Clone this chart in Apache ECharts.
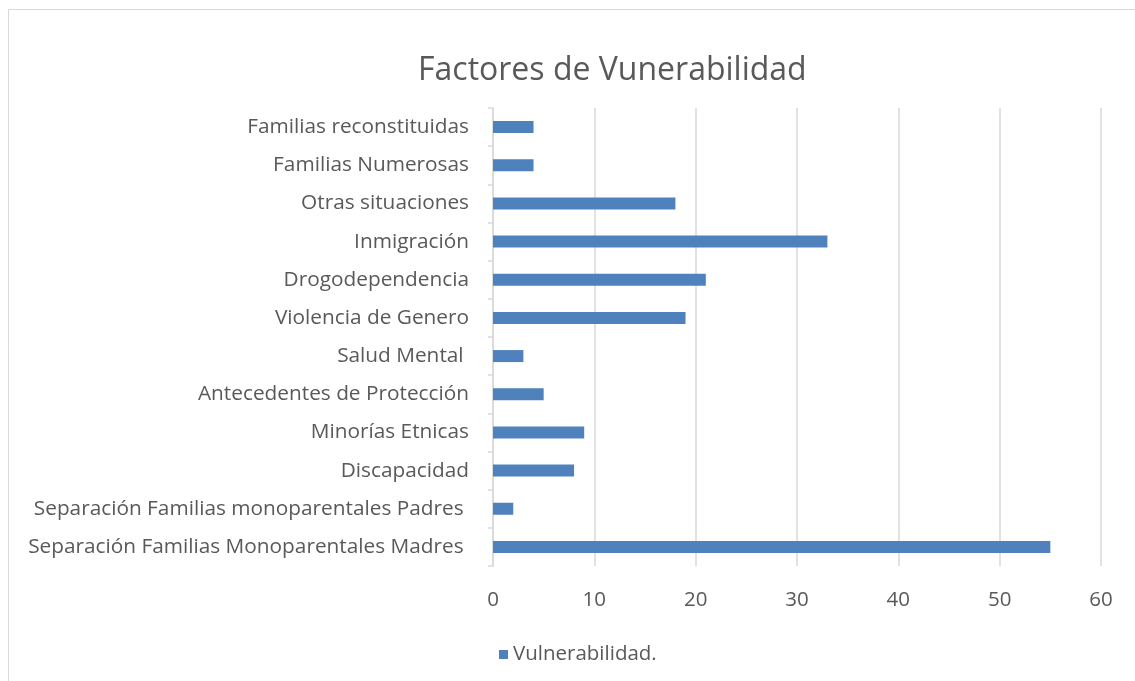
<!DOCTYPE html>
<html>
<head>
<meta charset="utf-8">
<script src="https://cdn.jsdelivr.net/npm/echarts@6/dist/echarts.min.js"></script>
<style>
  html, body { margin: 0; padding: 0; background: #fff; }
  #chart { width: 1135px; height: 681px; }
</style>
</head>
<body>
<div id="chart"></div>
<script>
// categories top to bottom, as in the picture
const categories = [
  'Familias reconstituidas',
  'Familias Numerosas',
  'Otras situaciones',
  'Inmigración',
  'Drogodependencia',
  'Violencia de Genero',
  'Salud Mental ',
  'Antecedentes de Protección',
  'Minorías Etnicas',
  'Discapacidad',
  'Separación Familias monoparentales Padres ',
  'Separación Familias Monoparentales Madres '
];
const vulnerabilidad = [4, 4, 18, 33, 21, 19, 3, 5, 9, 8, 2, 55];
const xTicks = [0, 10, 20, 30, 40, 50, 60];

const chart = echarts.init(document.getElementById('chart'));
const font = '"Open Sans", "Noto Sans", sans-serif';

const option = {
  animation: false,
  backgroundColor: '#fff',
  textStyle: { fontFamily: font },
  graphic: [{
    type: 'rect',
    shape: { x: 8.5, y: 9.5, width: 1200, height: 700 },
    style: { fill: 'none', stroke: '#d9d9d9', lineWidth: 1 },
    silent: true
  }],
  title: {
    text: 'Factores de Vunerabilidad',
    left: 413,
    top: 50,
    textStyle: { color: '#595959', fontSize: 32, fontWeight: 'normal', fontFamily: font }
  },
  legend: {
    left: 494,
    top: 639,
    itemWidth: 9,
    itemHeight: 9,
    itemGap: 6,
    icon: 'rect',
    textStyle: { color: '#595959', fontSize: 20.5, fontFamily: font },
    data: ['Vulnerabilidad.']
  },
  grid: { left: 493, right: 34, top: 108, bottom: 115, containLabel: false },
  xAxis: {
    type: 'value',
    min: xTicks[0],
    max: xTicks[xTicks.length - 1],
    interval: 10,
    axisLine: { show: false },
    axisTick: { show: false },
    axisLabel: { color: '#595959', fontSize: 20.5, margin: 24, fontFamily: font },
    splitLine: { show: true, lineStyle: { color: '#d9d9d9', width: 1.5 } }
  },
  yAxis: {
    type: 'category',
    inverse: true,
    data: categories,
    axisLine: { show: true, lineStyle: { color: '#d9d9d9', width: 1.5 } },
    axisTick: { show: true, length: 5, lineStyle: { color: '#d9d9d9', width: 1.5 } },
    axisLabel: { color: '#595959', fontSize: 20.8, margin: 24, fontFamily: font }
  },
  series: [{
    name: 'Vulnerabilidad.',
    type: 'bar',
    data: vulnerabilidad,
    barWidth: 12,
    itemStyle: { color: '#4f81bd' }
  }]
};

chart.setOption(option);
</script>
</body>
</html>
